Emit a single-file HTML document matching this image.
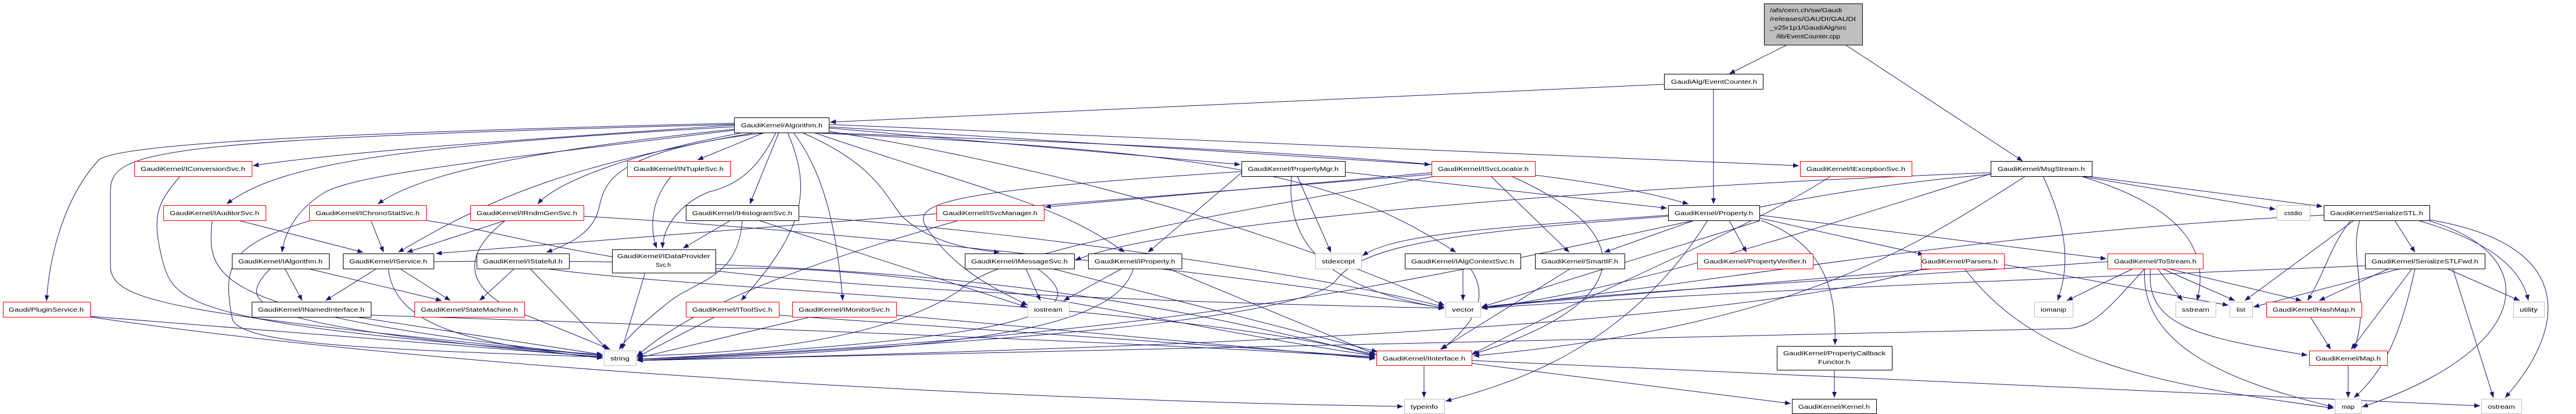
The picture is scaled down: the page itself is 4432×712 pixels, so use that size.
<!DOCTYPE html>
<html><head><meta charset="utf-8"><style>
html,body{margin:0;padding:0;background:#fff;width:4432px;height:712px;overflow:hidden}
svg{display:block}
text{font-family:"Liberation Sans",sans-serif;font-size:10px;fill:#000}
.e{fill:none;stroke:#191970;stroke-width:1}
.b{fill:#fff;stroke:#000;stroke-width:1}
.r{fill:#fff;stroke:#ff0000;stroke-width:1}
.g{fill:#fff;stroke:#bfbfbf;stroke-width:1}
</style></head><body>
<svg width="4432" height="712" viewBox="0 0 4432 712" xmlns="http://www.w3.org/2000/svg">
<defs><marker id="a" markerUnits="userSpaceOnUse" markerWidth="10" markerHeight="8" refX="10" refY="4" orient="auto"><path d="M0,0 L10,4 L0,8 z" fill="#191970"/></marker></defs>
<g class="e" marker-end="url(#a)">
<path d="M3075 77 L2975 127"/>
<path d="M3175 77 L3480 277"/>
<path d="M2863 145 L1428 210"/>
<path d="M2948 153 L2948 351"/>
<path d="M1263 215 C900 240 600 260 435 285"/>
<path d="M1263 218 C700 250 480 280 390 351"/>
<path d="M1265 222 C900 260 720 300 650 351"/>
<path d="M1290 226 C1100 260 960 310 925 351"/>
<path d="M1263 224 C800 280 620 300 560 330 C510 360 490 400 485 434"/>
<path d="M1300 228 C1000 280 860 330 685 434"/>
<path d="M1320 228 C1040 260 1040 320 1030 360 C1020 400 980 420 940 434"/>
<path d="M1315 228 L1200 275"/>
<path d="M1335 228 C1300 300 1260 320 1220 330 C1170 350 1140 390 1140 427"/>
<path d="M1340 228 L1290 351"/>
<path d="M1355 228 C1400 330 1380 400 1275 517"/>
<path d="M1365 228 C1420 300 1440 400 1450 517"/>
<path d="M1380 228 C1500 280 1520 330 1550 370 C1600 420 1680 430 1720 434"/>
<path d="M1400 228 C1700 330 1820 350 1935 434"/>
<path d="M1426 220 L2134 283"/>
<path d="M1426 218 L2461 283"/>
<path d="M1426 214 L3095 285"/>
<path d="M1410 228 C2300 260 2700 290 2905 351"/>
<path d="M1390 228 C2100 260 2300 300 2505 434"/>
<path d="M1263 212 C500 230 200 250 170 275 C110 340 85 440 80 518"/>
<path d="M1263 214 C250 240 190 260 190 330 L190 460 C195 520 300 540 1037 612"/>
<path d="M1426 226 C1900 300 2300 440 2485 525"/>
<path d="M310 303 C270 350 260 370 280 450 C300 520 320 560 1037 610"/>
<path d="M410 379 L625 434"/>
<path d="M365 379 C355 480 360 540 1037 612"/>
<path d="M638 379 L660 434"/>
<path d="M535 379 C400 420 380 450 400 550 C420 590 600 600 1037 614"/>
<path d="M733 379 C1000 420 1050 500 2485 530"/>
<path d="M870 379 L700 434"/>
<path d="M870 379 C790 440 800 500 900 540 C950 560 1000 580 1050 601"/>
<path d="M1004 372 C1500 400 2200 480 2485 530"/>
<path d="M490 462 L520 517"/>
<path d="M530 462 L760 517"/>
<path d="M465 462 C410 520 400 560 1037 614"/>
<path d="M648 462 L560 517"/>
<path d="M688 462 L775 517"/>
<path d="M668 462 C680 560 800 590 1037 616"/>
<path d="M746 450 C1600 440 2000 520 2366 612"/>
<path d="M885 462 L825 517"/>
<path d="M912 462 L1045 601"/>
<path d="M940 462 C1200 500 2000 520 2366 610"/>
<path d="M612 545 L1037 610"/>
<path d="M638 542 C1200 560 2000 590 2366 615"/>
<path d="M155 544 L1037 614"/>
<path d="M155 545 C800 640 1800 690 2414 699"/>
<path d="M1155 303 C1115 350 1120 400 1130 427"/>
<path d="M1257 379 L1175 427"/>
<path d="M1305 379 L1766 528"/>
<path d="M1277 379 C1270 480 1200 480 1150 520 C1100 560 1080 580 1065 601"/>
<path d="M1374 372 C1800 400 2300 480 2485 528"/>
<path d="M1110 469 L1070 601"/>
<path d="M1231 462 C1600 450 2000 560 2366 612"/>
<path d="M1650 379 C1400 450 1200 520 1096 612"/>
<path d="M2463 297 L1798 356"/>
<path d="M2463 300 L750 436"/>
<path d="M2565 303 L2700 434"/>
<path d="M2600 303 C2820 400 2820 520 2535 609"/>
<path d="M2470 303 C1900 400 1700 450 1650 500 C1500 600 1200 610 1096 612"/>
<path d="M1765 462 L1790 517"/>
<path d="M1785 462 C1880 530 1820 580 1096 618"/>
<path d="M1810 462 L2370 605"/>
<path d="M1930 462 L1830 517"/>
<path d="M1950 462 C1920 560 1700 600 1096 620"/>
<path d="M2010 462 L2368 610"/>
<path d="M1230 545 L1096 614"/>
<path d="M1340 542 L2366 614"/>
<path d="M1395 545 L1096 616"/>
<path d="M1542 542 L2366 617"/>
<path d="M2136 297 L1975 434"/>
<path d="M2232 303 L2290 434"/>
<path d="M2222 303 C2210 430 2300 500 2485 530"/>
<path d="M2136 295 C1600 330 1560 350 1600 400 C1650 470 1720 500 1768 525"/>
<path d="M2314 296 L2868 358"/>
<path d="M3150 303 C3000 400 2700 520 2532 610"/>
<path d="M2870 370 C2600 390 2400 400 2344 440"/>
<path d="M2915 379 L2760 434"/>
<path d="M2975 379 L3005 434"/>
<path d="M3030 379 C3140 420 3160 500 3157 593"/>
<path d="M2938 379 C2800 600 2600 660 2487 690"/>
<path d="M3027 375 L3310 438"/>
<path d="M3027 370 L3624 445"/>
<path d="M2870 372 C2500 400 2350 420 2300 480 C2250 560 1500 600 1096 620"/>
<path d="M3027 380 C2900 420 2700 480 2549 528"/>
<path d="M2517 462 L2517 517"/>
<path d="M2530 462 C2570 520 2520 570 2480 601"/>
<path d="M2702 462 L2478 601"/>
<path d="M2450 628 L2450 684"/>
<path d="M2532 625 L3081 694"/>
<path d="M2532 620 L4267 698"/>
<path d="M3156 636 L3156 684"/>
<path d="M3425 297 C2800 320 2000 380 1850 448"/>
<path d="M3590 303 L3996 355"/>
<path d="M3580 303 L3915 360"/>
<path d="M3515 303 C3560 400 3560 460 3540 517"/>
<path d="M3580 303 C3770 360 3800 440 3780 517"/>
<path d="M3485 303 C3300 420 3100 560 2535 612"/>
<path d="M3425 300 C2800 350 2500 560 1096 618"/>
<path d="M3425 299 C3100 400 2800 500 2549 530"/>
<path d="M4120 379 L4155 434"/>
<path d="M4050 379 L3862 517"/>
<path d="M4045 379 C4010 420 4000 470 3970 517"/>
<path d="M4060 379 C4040 440 4080 520 4050 601"/>
<path d="M4160 379 C4300 420 4340 470 4350 517"/>
<path d="M4180 378 C4430 420 4420 560 4310 684"/>
<path d="M4180 380 C4380 440 4360 600 4064 700"/>
<path d="M3998 370 C3400 400 3000 480 2549 530"/>
<path d="M4130 462 L3877 528"/>
<path d="M4110 462 L3990 517"/>
<path d="M4150 462 L4045 601"/>
<path d="M4155 462 C4130 580 4100 640 4050 684"/>
<path d="M4210 462 L4335 517"/>
<path d="M4220 462 L4290 684"/>
<path d="M4069 457 C3500 480 3000 500 2549 530"/>
<path d="M3670 462 L3556 517"/>
<path d="M3712 462 L3755 517"/>
<path d="M3720 462 L3845 517"/>
<path d="M3730 462 L3960 517"/>
<path d="M3700 462 C3690 560 3780 580 3970 611"/>
<path d="M3690 462 C3680 600 3850 660 4015 700"/>
<path d="M3690 462 C3620 540 3600 560 3560 565 C3000 580 2000 600 1096 620"/>
<path d="M3626 450 C3200 480 2800 500 2549 528"/>
<path d="M3380 462 C3500 620 3700 660 4015 702"/>
<path d="M3448 455 L3834 525"/>
<path d="M3330 462 L2549 528"/>
<path d="M3310 462 C3000 560 2000 600 1096 620"/>
<path d="M3975 545 L4010 601"/>
<path d="M4040 628 L4040 684"/>
</g>
<rect x="3035.5" y="6.5" width="169" height="71" fill="#bfbfbf" stroke="#000"/>
<text x="3045" y="21" textLength="124" lengthAdjust="spacingAndGlyphs">/afs/cern.ch/sw/Gaudi</text>
<text x="3045" y="36" textLength="148" lengthAdjust="spacingAndGlyphs">/releases/GAUDI/GAUDI</text>
<text x="3045" y="51" textLength="132" lengthAdjust="spacingAndGlyphs">_v25r1p1/GaudiAlg/src</text>
<text x="3056" y="66" textLength="110" lengthAdjust="spacingAndGlyphs">/lib/EventCounter.cpp</text>
<g>
<rect class="b" x="2863.5" y="127.5" width="170" height="26"/><text x="2875" y="144" textLength="148" lengthAdjust="spacingAndGlyphs">GaudiAlg/EventCounter.h</text>
<rect class="b" x="1263.5" y="202.5" width="163" height="26"/><text x="1275" y="219" textLength="140" lengthAdjust="spacingAndGlyphs">GaudiKernel/Algorithm.h</text>
<rect class="b" x="3425.5" y="277.5" width="174" height="26"/><text x="3437" y="294" textLength="150" lengthAdjust="spacingAndGlyphs">GaudiKernel/MsgStream.h</text>
<rect class="r" x="231.5" y="277.5" width="202" height="26"/><text x="242" y="294" textLength="180" lengthAdjust="spacingAndGlyphs">GaudiKernel/IConversionSvc.h</text>
<rect class="r" x="1079.5" y="277.5" width="177" height="26"/><text x="1090" y="294" textLength="155" lengthAdjust="spacingAndGlyphs">GaudiKernel/INTupleSvc.h</text>
<rect class="b" x="2136.5" y="277.5" width="178" height="26"/><text x="2147" y="294" textLength="156" lengthAdjust="spacingAndGlyphs">GaudiKernel/PropertyMgr.h</text>
<rect class="r" x="2463.5" y="277.5" width="178" height="26"/><text x="2474" y="294" textLength="156" lengthAdjust="spacingAndGlyphs">GaudiKernel/ISvcLocator.h</text>
<rect class="r" x="3097.5" y="277.5" width="192" height="26"/><text x="3108" y="294" textLength="170" lengthAdjust="spacingAndGlyphs">GaudiKernel/IExceptionSvc.h</text>
<rect class="r" x="281.5" y="353.5" width="176" height="26"/><text x="292" y="370" textLength="154" lengthAdjust="spacingAndGlyphs">GaudiKernel/IAuditorSvc.h</text>
<rect class="r" x="532.5" y="353.5" width="201" height="26"/><text x="543" y="370" textLength="179" lengthAdjust="spacingAndGlyphs">GaudiKernel/IChronoStatSvc.h</text>
<rect class="r" x="809.5" y="353.5" width="195" height="26"/><text x="820" y="370" textLength="173" lengthAdjust="spacingAndGlyphs">GaudiKernel/IRndmGenSvc.h</text>
<rect class="b" x="1180.5" y="353.5" width="194" height="26"/><text x="1191" y="370" textLength="172" lengthAdjust="spacingAndGlyphs">GaudiKernel/IHistogramSvc.h</text>
<rect class="r" x="1611.5" y="353.5" width="185" height="26"/><text x="1622" y="370" textLength="163" lengthAdjust="spacingAndGlyphs">GaudiKernel/ISvcManager.h</text>
<rect class="b" x="2870.5" y="353.5" width="157" height="26"/><text x="2881" y="370" textLength="135" lengthAdjust="spacingAndGlyphs">GaudiKernel/Property.h</text>
<rect class="g" x="3917.5" y="353.5" width="57" height="26"/><text x="3930" y="370" textLength="31" lengthAdjust="spacingAndGlyphs">cstdio</text>
<rect class="b" x="3998.5" y="353.5" width="182" height="26"/><text x="4009" y="370" textLength="160" lengthAdjust="spacingAndGlyphs">GaudiKernel/SerializeSTL.h</text>
<rect class="b" x="399.5" y="436.5" width="167" height="26"/><text x="410" y="453" textLength="145" lengthAdjust="spacingAndGlyphs">GaudiKernel/IAlgorithm.h</text>
<rect class="b" x="590.5" y="436.5" width="156" height="26"/><text x="601" y="453" textLength="134" lengthAdjust="spacingAndGlyphs">GaudiKernel/IService.h</text>
<rect class="b" x="820.5" y="436.5" width="159" height="26"/><text x="831" y="453" textLength="137" lengthAdjust="spacingAndGlyphs">GaudiKernel/IStateful.h</text>
<rect class="b" x="1053.5" y="429.5" width="178" height="40"/><text x="1062" y="444" textLength="160" lengthAdjust="spacingAndGlyphs">GaudiKernel/IDataProvider</text><text x="1128" y="459" textLength="26" lengthAdjust="spacingAndGlyphs">Svc.h</text>
<rect class="b" x="1660.5" y="436.5" width="188" height="26"/><text x="1671" y="453" textLength="166" lengthAdjust="spacingAndGlyphs">GaudiKernel/IMessageSvc.h</text>
<rect class="b" x="1872.5" y="436.5" width="161" height="26"/><text x="1883" y="453" textLength="139" lengthAdjust="spacingAndGlyphs">GaudiKernel/IProperty.h</text>
<rect class="g" x="2263.5" y="436.5" width="79" height="26"/><text x="2274" y="453" textLength="57" lengthAdjust="spacingAndGlyphs">stdexcept</text>
<rect class="b" x="2417.5" y="436.5" width="199" height="26"/><text x="2428" y="453" textLength="177" lengthAdjust="spacingAndGlyphs">GaudiKernel/IAlgContextSvc.h</text>
<rect class="b" x="2641.5" y="436.5" width="154" height="26"/><text x="2652" y="453" textLength="132" lengthAdjust="spacingAndGlyphs">GaudiKernel/SmartIF.h</text>
<rect class="r" x="2920.5" y="436.5" width="199" height="26"/><text x="2931" y="453" textLength="177" lengthAdjust="spacingAndGlyphs">GaudiKernel/PropertyVerifier.h</text>
<rect class="r" x="3305.5" y="436.5" width="143" height="26"/><text x="3306" y="453" textLength="131" lengthAdjust="spacingAndGlyphs">GaudiKernel/Parsers.h</text>
<rect class="r" x="3626.5" y="436.5" width="164" height="26"/><text x="3637" y="453" textLength="142" lengthAdjust="spacingAndGlyphs">GaudiKernel/ToStream.h</text>
<rect class="b" x="4069.5" y="436.5" width="206" height="26"/><text x="4080" y="453" textLength="184" lengthAdjust="spacingAndGlyphs">GaudiKernel/SerializeSTLFwd.h</text>
<rect class="r" x="5.5" y="519.5" width="150" height="26"/><text x="15" y="536" textLength="129" lengthAdjust="spacingAndGlyphs">Gaudi/PluginService.h</text>
<rect class="b" x="433.5" y="519.5" width="205" height="26"/><text x="444" y="536" textLength="183" lengthAdjust="spacingAndGlyphs">GaudiKernel/INamedInterface.h</text>
<rect class="r" x="713.5" y="519.5" width="189" height="26"/><text x="724" y="536" textLength="167" lengthAdjust="spacingAndGlyphs">GaudiKernel/StateMachine.h</text>
<rect class="r" x="1180.5" y="519.5" width="160" height="26"/><text x="1191" y="536" textLength="138" lengthAdjust="spacingAndGlyphs">GaudiKernel/IToolSvc.h</text>
<rect class="r" x="1363.5" y="519.5" width="179" height="26"/><text x="1374" y="536" textLength="157" lengthAdjust="spacingAndGlyphs">GaudiKernel/IMonitorSvc.h</text>
<rect class="g" x="1768.5" y="519.5" width="71" height="26"/><text x="1779" y="536" textLength="49" lengthAdjust="spacingAndGlyphs">iostream</text>
<rect class="g" x="2487.5" y="519.5" width="60" height="26"/><text x="2498" y="536" textLength="38" lengthAdjust="spacingAndGlyphs">vector</text>
<rect class="g" x="3500.5" y="519.5" width="66" height="26"/><text x="3511" y="536" textLength="44" lengthAdjust="spacingAndGlyphs">iomanip</text>
<rect class="g" x="3743.5" y="519.5" width="69" height="26"/><text x="3754" y="536" textLength="47" lengthAdjust="spacingAndGlyphs">sstream</text>
<rect class="g" x="3836.5" y="519.5" width="39" height="26"/><text x="3848" y="536" textLength="15" lengthAdjust="spacingAndGlyphs">list</text>
<rect class="r" x="3899.5" y="519.5" width="164" height="26"/><text x="3910" y="536" textLength="142" lengthAdjust="spacingAndGlyphs">GaudiKernel/HashMap.h</text>
<rect class="g" x="4324.5" y="519.5" width="53" height="26"/><text x="4335" y="536" textLength="31" lengthAdjust="spacingAndGlyphs">utility</text>
<rect class="g" x="1039.5" y="603.5" width="55" height="25"/><text x="1050" y="620" textLength="33" lengthAdjust="spacingAndGlyphs">string</text>
<rect class="r" x="2368.5" y="603.5" width="164" height="25"/><text x="2379" y="620" textLength="142" lengthAdjust="spacingAndGlyphs">GaudiKernel/IInterface.h</text>
<rect class="b" x="3057.5" y="595.5" width="198" height="41"/><text x="3068" y="611" textLength="176" lengthAdjust="spacingAndGlyphs">GaudiKernel/PropertyCallback</text><text x="3128" y="626" textLength="55" lengthAdjust="spacingAndGlyphs">Functor.h</text>
<rect class="r" x="3973.5" y="603.5" width="134" height="25"/><text x="3984" y="620" textLength="112" lengthAdjust="spacingAndGlyphs">GaudiKernel/Map.h</text>
<rect class="g" x="2416.5" y="686.5" width="69" height="25"/><text x="2427" y="703" textLength="47" lengthAdjust="spacingAndGlyphs">typeinfo</text>
<rect class="b" x="3083.5" y="686.5" width="145" height="25"/><text x="3094" y="703" textLength="123" lengthAdjust="spacingAndGlyphs">GaudiKernel/Kernel.h</text>
<rect class="g" x="4017.5" y="686.5" width="45" height="25"/><text x="4029" y="703" textLength="22" lengthAdjust="spacingAndGlyphs">map</text>
<rect class="g" x="4269.5" y="686.5" width="69" height="25"/><text x="4280" y="703" textLength="47" lengthAdjust="spacingAndGlyphs">ostream</text>
</g>
</svg>
</body></html>
